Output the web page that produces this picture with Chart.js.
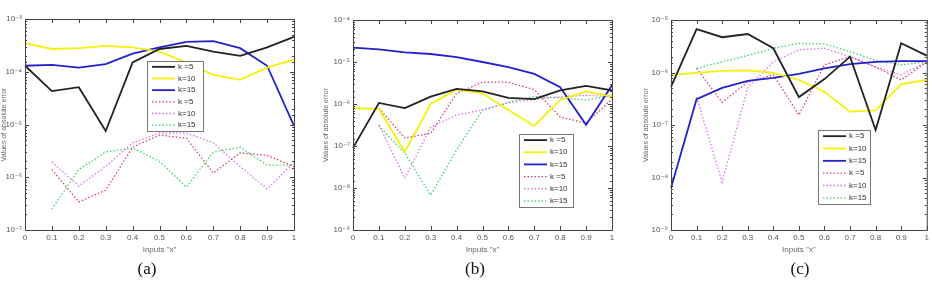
<!DOCTYPE html>
<html>
<head>
<meta charset="utf-8">
<script src="https://cdn.jsdelivr.net/npm/chart.js@4.4.1/dist/chart.umd.min.js"></script>
<style>
  body { margin: 0; width: 932px; height: 288px; background: #fff; position: relative; overflow: hidden; }
  .panel { position: absolute; top: 0; height: 260px; }
  .caption { position: absolute; top: 259px; transform: translateX(-50%);
             font-family: "Liberation Serif", "DejaVu Serif", serif; font-size: 17px; color: #111; }
</style>
</head>
<body>
<div class="panel" style="left:0;width:300px"><canvas id="chartA"></canvas></div>
<div class="panel" style="left:322px;width:296px"><canvas id="chartB"></canvas></div>
<div class="panel" style="left:642px;width:290px"><canvas id="chartC"></canvas></div>
<div class="caption" style="left:147px">(a)</div>
<div class="caption" style="left:475px">(b)</div>
<div class="caption" style="left:800px">(c)</div>

<script>
// 入力 x（カテゴリ）
const xLabels = ['0', '0.1', '0.2', '0.3', '0.4', '0.5', '0.6', '0.7', '0.8', '0.9', '1'];
const seriesLabels = ['k =5', 'k=10', 'k=15', 'k =5', 'k=10', 'k=15'];

// 縦軸の範囲（10のべき）
const yRangeA = [1e-7, 1e-3];
const yRangeB = [1e-9, 1e-4];
const yRangeC = [1e-9, 1e-5];

// (a)
const errA_k5      = [1.3e-4, 4.3e-5, 5.1e-5, 7.5e-6, 1.5e-4, 2.7e-4, 3.1e-4, 2.4e-4, 2.0e-4, 2.9e-4, 4.6e-4];
const errA_k10     = [3.5e-4, 2.7e-4, 2.8e-4, 3.1e-4, 2.9e-4, 2.4e-4, 1.5e-4, 8.7e-5, 7.0e-5, 1.2e-4, 1.7e-4];
const errA_k15     = [1.3e-4, 1.35e-4, 1.2e-4, 1.4e-4, 2.2e-4, 2.9e-4, 3.7e-4, 3.8e-4, 2.8e-4, 1.3e-4, 9.4e-6];
const errA_k5_dot  = [null, 1.4e-6, 3.4e-7, 5.7e-7, 3.7e-6, 6.3e-6, 5.5e-6, 1.2e-6, 2.9e-6, 2.6e-6, 1.6e-6];
const errA_k10_dot = [null, 1.95e-6, 6.8e-7, 1.6e-6, 4.5e-6, 6.9e-6, 6.9e-6, 4.5e-6, 1.6e-6, 6.0e-7, 1.9e-6];
const errA_k15_dot = [null, 2.5e-7, 1.4e-6, 3.0e-6, 3.6e-6, 2.0e-6, 6.5e-7, 3.0e-6, 3.7e-6, 1.7e-6, 1.7e-6];

// (b)
const errB_k5      = [9.0e-8, 1.06e-6, 8.0e-7, 1.5e-6, 2.3e-6, 2.0e-6, 1.4e-6, 1.3e-6, 2.1e-6, 2.7e-6, 2.1e-6];
const errB_k10     = [8.0e-7, 7.6e-7, 7.2e-8, 1.0e-6, 2.2e-6, 1.8e-6, 7.2e-7, 3.0e-7, 1.25e-6, 2.0e-6, 1.5e-6];
const errB_k15     = [2.2e-5, 2.0e-5, 1.7e-5, 1.55e-5, 1.3e-5, 1.0e-5, 7.6e-6, 5.2e-6, 2.5e-6, 3.2e-7, 2.8e-6];
const errB_k5_dot  = [null, 8.0e-7, 1.55e-7, 2.0e-7, 1.8e-6, 3.3e-6, 3.3e-6, 2.2e-6, 4.9e-7, 3.5e-7, 1.3e-6];
const errB_k10_dot = [null, 3.2e-7, 1.7e-8, 2.8e-7, 5.5e-7, 7.2e-7, 1.06e-6, 1.3e-6, 1.5e-6, 1.6e-6, 1.5e-6];
const errB_k15_dot = [null, 3.0e-7, 6.8e-8, 6.8e-9, 8.0e-8, 7.2e-7, 1.1e-6, 1.5e-6, 1.4e-6, 1.25e-6, 1.6e-6];

// (c)
const errC_k5      = [5.3e-7, 6.7e-6, 4.7e-6, 5.4e-6, 2.9e-6, 3.4e-7, 7.5e-7, 2.0e-6, 8.0e-8, 3.6e-6, 2.1e-6];
const errC_k10     = [9.0e-7, 9.8e-7, 1.07e-6, 1.1e-6, 9.8e-7, 7.2e-7, 4.3e-7, 1.8e-7, 1.9e-7, 6.0e-7, 7.2e-7];
const errC_k15     = [6.3e-9, 3.1e-7, 5.1e-7, 6.9e-7, 7.9e-7, 9.4e-7, 1.2e-6, 1.45e-6, 1.6e-6, 1.65e-6, 1.65e-6];
const errC_k5_dot  = [null, 1.2e-6, 2.7e-7, 6.6e-7, 9.0e-7, 1.55e-7, 1.4e-6, 2.0e-6, 1.27e-6, 7.2e-7, 1.6e-6];
const errC_k10_dot = [null, 3.4e-7, 8.2e-9, 5.1e-7, 1.6e-6, 2.7e-6, 2.9e-6, 2.0e-6, 1.27e-6, 9.0e-7, 1.6e-6];
const errC_k15_dot = [null, 1.2e-6, 1.6e-6, 2.1e-6, 2.9e-6, 3.6e-6, 3.5e-6, 2.5e-6, 1.7e-6, 1.4e-6, 1.6e-6];

// 線のスタイル
const lineStyles = [
  { color: '#222222', width: 1.8, dash: [] },
  { color: '#f4f20a', width: 1.8, dash: [] },
  { color: '#2222cc', width: 1.8, dash: [] },
  { color: '#d8406a', width: 1.3, dash: [1.5, 2] },
  { color: '#d676e6', width: 1.3, dash: [1.5, 2] },
  { color: '#3fd46a', width: 1.3, dash: [1.5, 2] },
];

const SUP = { '-': '⁻', '0': '⁰', '1': '¹', '2': '²', '3': '³', '4': '⁴', '5': '⁵', '6': '⁶', '7': '⁷', '8': '⁸', '9': '⁹' };
function powLabel(v) {
  const e = Math.log10(v);
  if (Math.abs(e - Math.round(e)) > 1e-6) return '';
  return '10' + String(Math.round(e)).split('').map(c => SUP[c]).join('');
}

// 枠と内向きの目盛り
const framePlugin = {
  id: 'frame',
  afterDatasetsDraw(chart) {
    const { ctx, chartArea: a, scales } = chart;
    ctx.save();
    ctx.strokeStyle = '#444';
    ctx.lineWidth = 1;
    ctx.setLineDash([]);
    ctx.strokeRect(a.left + 0.5, a.top + 0.5, a.right - a.left, a.bottom - a.top);
    ctx.beginPath();
    scales.y.ticks.forEach(t => {
      const py = Math.round(scales.y.getPixelForValue(t.value)) + 0.5;
      const len = powLabel(t.value) ? 4 : 2;
      ctx.moveTo(a.left, py);  ctx.lineTo(a.left + len, py);
      ctx.moveTo(a.right, py); ctx.lineTo(a.right - len, py);
    });
    scales.x.ticks.forEach((t, i) => {
      const px = Math.round(scales.x.getPixelForTick(i)) + 0.5;
      ctx.moveTo(px, a.bottom); ctx.lineTo(px, a.bottom - 4);
      ctx.moveTo(px, a.top);    ctx.lineTo(px, a.top + 4);
    });
    ctx.stroke();
    ctx.restore();
  }
};

// 枠付き凡例（プロット内）
const boxLegendPlugin = {
  id: 'boxLegend',
  afterDraw(chart, args, opts) {
    const { ctx } = chart;
    const { x, y, w, h } = opts;
    ctx.save();
    ctx.fillStyle = '#fff';
    ctx.fillRect(x, y, w, h);
    ctx.strokeStyle = '#777';
    ctx.lineWidth = 1;
    ctx.setLineDash([]);
    ctx.strokeRect(x + 0.5, y + 0.5, w, h);
    const rowH = h / chart.data.datasets.length;
    ctx.font = '8px "Liberation Sans", Arial, sans-serif';
    ctx.textBaseline = 'middle';
    chart.data.datasets.forEach((ds, i) => {
      const cy = y + rowH * (i + 0.5);
      ctx.beginPath();
      ctx.strokeStyle = ds.borderColor;
      ctx.lineWidth = ds.borderWidth;
      ctx.setLineDash(ds.borderDash);
      ctx.moveTo(x + 5, cy);
      ctx.lineTo(x + 28, cy);
      ctx.stroke();
      ctx.fillStyle = '#333';
      ctx.fillText(ds.label, x + 31, cy);
    });
    ctx.restore();
  }
};

function makeChart(id, series, yRange, layout, legendBox) {
  const datasets = series.map((data, i) => ({
    label: seriesLabels[i],
    data: data,
    borderColor: lineStyles[i].color,
    borderWidth: lineStyles[i].width,
    borderDash: lineStyles[i].dash,
    pointRadius: 0,
    tension: 0,
    fill: false,
  }));
  return new Chart(document.getElementById(id), {
    type: 'line',
    data: { labels: xLabels, datasets: datasets },
    plugins: [framePlugin, boxLegendPlugin],
    options: {
      responsive: true,
      maintainAspectRatio: false,
      animation: false,
      layout: { padding: { left: 0, right: layout.right, top: layout.top, bottom: 0 } },
      plugins: {
        legend: { display: false },
        tooltip: { enabled: false },
        boxLegend: legendBox,
      },
      scales: {
        x: {
          type: 'category',
          offset: false,
          grid: { display: false, drawTicks: false },
          border: { display: false },
          afterFit(s) { s.height = 30; },
          ticks: { autoSkip: false, maxRotation: 0, padding: 3, color: '#555',
                   font: { family: '"Liberation Sans", Arial, sans-serif', size: 8 } },
          title: { display: true, text: 'Inputs "x"', color: '#666', padding: { top: 0, bottom: 5 },
                   font: { family: '"Liberation Sans", Arial, sans-serif', size: 8 } },
        },
        y: {
          type: 'logarithmic',
          min: yRange[0],
          max: yRange[1],
          grid: { display: false, drawTicks: false },
          border: { display: false },
          afterFit(s) { s.width = layout.yWidth; },
          ticks: { autoSkip: false, padding: 3, color: '#555',
                   font: { family: '"Liberation Sans", "DejaVu Sans", Arial, sans-serif', size: 8 },
                   callback: (v) => powLabel(v) },
          title: { display: true, text: 'Values of absolute error', color: '#666', padding: { top: 0, bottom: 0 },
                   font: { family: '"Liberation Sans", Arial, sans-serif', size: 7 } },
        },
      },
    },
  });
}

makeChart('chartA',
  [errA_k5, errA_k10, errA_k15, errA_k5_dot, errA_k10_dot, errA_k15_dot],
  yRangeA, { yWidth: 25, right: 6, top: 19 }, { x: 147, y: 61, w: 56, h: 70 });

makeChart('chartB',
  [errB_k5, errB_k10, errB_k15, errB_k5_dot, errB_k10_dot, errB_k15_dot],
  yRangeB, { yWidth: 31, right: 6, top: 20 }, { x: 197, y: 134, w: 54, h: 73 });

makeChart('chartC',
  [errC_k5, errC_k10, errC_k15, errC_k5_dot, errC_k10_dot, errC_k15_dot],
  yRangeC, { yWidth: 29, right: 5, top: 20 }, { x: 176, y: 130, w: 52, h: 74 });
</script>
</body>
</html>
